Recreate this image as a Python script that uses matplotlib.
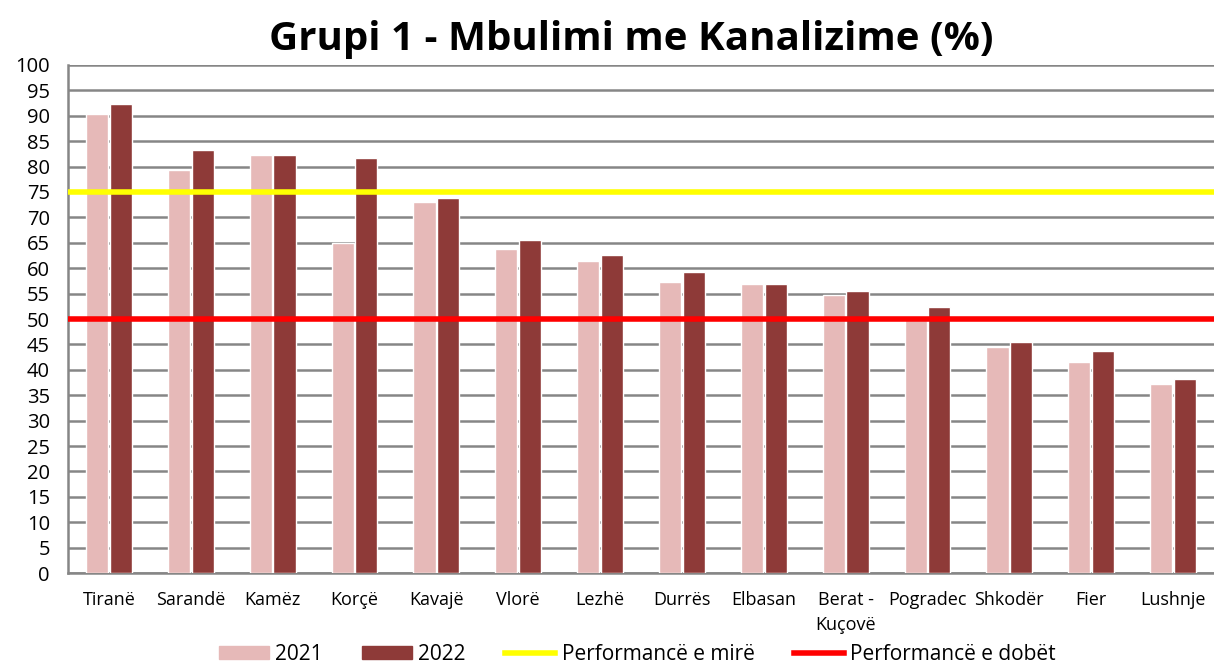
import numpy as np
import matplotlib.pyplot as plt
from matplotlib.patches import Patch
from matplotlib.lines import Line2D

plt.rcParams['font.family'] = ['Open Sans', 'DejaVu Sans']

cities = ['Tiranë', 'Sarandë', 'Kamëz', 'Korçë', 'Kavajë', 'Vlorë', 'Lezhë',
          'Durrës', 'Elbasan', 'Berat -\nKuçovë', 'Pogradec', 'Shkodër', 'Fier', 'Lushnje']
cov_2021 = [90.4, 79.3, 82.3, 65.0, 73.1, 63.7, 61.5, 57.3, 56.8, 54.7, 49.8, 44.5, 41.6, 37.3]
cov_2022 = [92.3, 83.2, 82.3, 81.7, 73.8, 65.6, 62.5, 59.2, 56.8, 55.5, 52.4, 45.4, 43.7, 38.1]
good_level = 75
poor_level = 50

col_2021 = '#E6B9B8'
col_2022 = '#8E3A38'

fig = plt.figure(figsize=(12.14, 6.65), dpi=100)
ax = fig.add_axes([0.056, 0.1383, 0.944, 0.764])

x = np.arange(len(cities))
w = 0.27
ax.bar(x - w/2 - 0.01, cov_2021, w, color=col_2021, edgecolor='white', linewidth=1, zorder=3)
ax.bar(x + w/2 + 0.01, cov_2022, w, color=col_2022, edgecolor='white', linewidth=1, zorder=3)

ax.axhline(good_level, color='#FFFF00', lw=4, zorder=4)
ax.axhline(poor_level, color='#FF0000', lw=4, zorder=4)

ax.set_xlim(-0.5, len(cities) - 0.5)
ax.set_ylim(0, 100)
ax.set_yticks(np.arange(0, 101, 5))
ax.yaxis.grid(True, color='#868686', lw=1.8, zorder=0)
ax.set_axisbelow(True)
ax.tick_params(axis='y', length=0, labelsize=14.5, pad=13)
ax.tick_params(axis='x', length=0, labelsize=13, pad=13)
ax.set_xticks(x)
ax.set_xticklabels(cities, linespacing=1.5, va='top')

for s in ['top', 'right']:
    ax.spines[s].set_visible(False)
ax.spines['left'].set_color('#868686')
ax.spines['left'].set_linewidth(1.8)
ax.spines['bottom'].set_color('#868686')
ax.spines['bottom'].set_linewidth(1.8)

fig.text(0.52, 0.94, 'Grupi 1 - Mbulimi me Kanalizime (%)', ha='center', va='center',
         fontsize=29, fontweight='bold')

handles = [Patch(color=col_2021, label='2021'),
           Patch(color=col_2022, label='2022'),
           Line2D([], [], color='#FFFF00', lw=4, label='Performancë e mirë'),
           Line2D([], [], color='#FF0000', lw=4, label='Performancë e dobët')]
fig.legend(handles=handles, loc='center', bbox_to_anchor=(0.525, 0.016), ncol=4,
           frameon=False, fontsize=15, handlelength=2.4, handleheight=0.55,
           handletextpad=0.3, columnspacing=1.9)

fig.savefig('out.png', dpi=100)
